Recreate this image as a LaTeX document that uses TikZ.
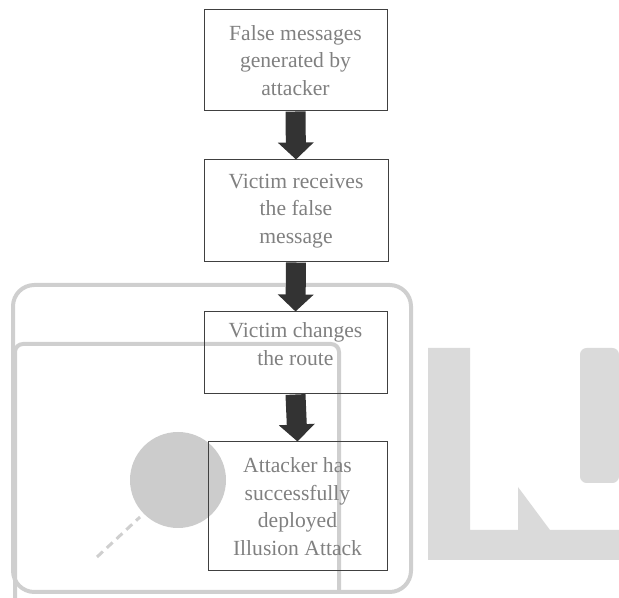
\documentclass[tikz,border=0pt]{standalone}
\usepackage{fontspec}
\setmainfont{Liberation Serif}
\usetikzlibrary{arrows.meta}
\definecolor{wmgray}{RGB}{207,207,207}
\definecolor{wmlight}{RGB}{218,218,218}
\definecolor{wmdot}{RGB}{204,204,204}
\begin{document}
\begin{tikzpicture}[x=0.75pt, y=-0.75pt,
    box/.style={draw=black!75, line width=0.75pt, align=center, text=black!50,
        font=\fontsize{16.2}{20.6}\selectfont, inner sep=0pt},
    bigarrow/.style={line width=15pt, draw=black!80,
        -{Triangle[length=12.75pt, width=26.25pt]}}]
    \useasboundingbox (0,0) rectangle (619,598);
    % Водяной знак
    \draw[wmgray, line width=3pt, rounded corners=16pt] (13,285) rectangle (411,592);
    \draw[wmgray, line width=3pt, rounded corners=6pt] (15,598) -- (15,344) -- (339,344) -- (339,592);
    \fill[wmdot] (178,480) circle[radius=48];
    \draw[wmgray, line width=2.25pt, dash pattern=on 6pt off 4pt] (97,557) -- (140,517);
    \fill[wmlight] (428,348) -- (470,348) -- (470,530) -- (518,530) -- (518,487) -- (550,530)
        -- (619,530) -- (619,560) -- (428,560) -- cycle;
    \fill[wmlight, rounded corners=5pt] (580,348) -- (619,348) -- (619,483) -- (580,483) -- cycle;
    % Блоки
    \node[box, minimum width=137.25pt, minimum height=75.75pt] (gen) at (295.5,60.5)
        {False messages\\generated by\\attacker};
    \node[box, minimum width=138pt, minimum height=76.5pt] (recv) at (296,211)
        {Victim receives\\the false\\message};
    \node[box, minimum width=137.25pt, minimum height=61.5pt, text depth=13.5pt] (route) at (295.5,353)
        {Victim changes\\the route};
    \node[box, minimum width=134.25pt, minimum height=96.75pt] (done) at (297.5,506.5)
        {Attacker has\\successfully\\deployed\\Illusion Attack};
    % Стрелки
    \draw[bigarrow] (gen.south) -- (recv.north);
    \draw[bigarrow] (recv.south) -- (route.north);
    \draw[bigarrow] (route.south) -- (done.north);
\end{tikzpicture}
\end{document}
